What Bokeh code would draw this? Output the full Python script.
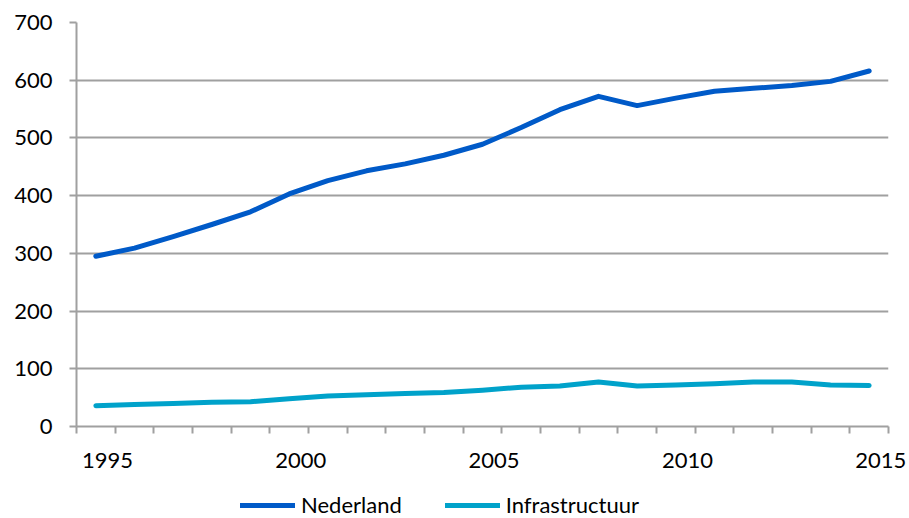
from bokeh.plotting import figure
from bokeh.layouts import column
from bokeh.models import FixedTicker, Legend, LegendItem, Range1d
from bokeh.embed import file_html
from bokeh.resources import INLINE

years = list(range(1995, 2016))
nederland = [295, 309, 329, 350, 372, 403, 426, 443, 455, 470, 489, 518, 549, 572,
             556, 569, 581, 586, 591, 598, 616]
infrastructuur = [36, 38, 40, 42, 43, 48, 53, 55, 57, 59, 63, 68, 70, 77,
                  70, 72, 74, 77, 77, 72, 71]
series_names = ["Nederland", "Infrastructuur"]
label_years = [1995, 2000, 2005, 2010, 2015]
y_ticks = [0, 100, 200, 300, 400, 500, 600, 700]

FONT = "Lato"
GRID = "#A0A0A0"
C_NL = "#005AC8"
C_IN = "#00A2CA"

p = figure(frame_width=812, frame_height=404, output_backend="svg",
           toolbar_location=None, min_border_left=76, min_border_right=21,
           min_border_top=22, min_border_bottom=54,
           x_range=Range1d(years[0] - 0.5, years[-1] + 0.5),
           y_range=Range1d(y_ticks[0], y_ticks[-1]))
p.outline_line_color = None
p.background_fill_color = "white"
p.border_fill_color = "white"

p.line(years, nederland, line_color=C_NL, line_width=5,
       line_cap="round", line_join="round")
p.line(years, infrastructuur, line_color=C_IN, line_width=5,
       line_cap="round", line_join="round")

# x axis: tick marks at category boundaries, labels slightly right of center
off = 0.3
xt = FixedTicker(ticks=[y + off for y in label_years],
                 minor_ticks=[y - 0.5 for y in years] + [years[-1] + 0.5])
p.xaxis.ticker = xt
p.xaxis.major_label_overrides = {y + off: str(y) for y in label_years}
p.xaxis.major_tick_line_color = None
p.xaxis.major_tick_out = 7
p.xaxis.major_tick_in = 0
p.xaxis.minor_tick_out = 7
p.xaxis.minor_tick_in = 0
p.xaxis.minor_tick_line_color = GRID
p.xaxis.minor_tick_line_width = 2
p.xaxis.major_label_standoff = 19
p.xgrid.grid_line_color = None

p.yaxis.ticker = FixedTicker(ticks=y_ticks)
p.yaxis.major_tick_out = 7
p.yaxis.major_tick_in = 0
p.yaxis.minor_tick_line_color = None
p.yaxis.major_tick_line_color = GRID
p.yaxis.major_tick_line_width = 2
p.yaxis.major_label_standoff = 17
p.ygrid.grid_line_color = GRID
p.ygrid.grid_line_width = 2
p.ygrid.ticker = FixedTicker(ticks=y_ticks[1:])

for ax in (p.xaxis, p.yaxis):
    ax.axis_line_color = GRID
    ax.axis_line_width = 2
    ax.major_label_text_font = FONT
    ax.major_label_text_font_size = "22px"
    ax.major_label_text_color = "black"

# legend strip below the chart (its series lie outside the strip's visible range)
lg = figure(width=909, height=38, output_backend="svg", toolbar_location=None,
            x_axis_type=None, y_axis_type=None, min_border=0,
            x_range=Range1d(0, 1), y_range=Range1d(0, 1))
lg.outline_line_color = None
lg.grid.grid_line_color = None
l1 = lg.line(years, nederland, line_color=C_NL, line_width=5, line_cap="round")
l2 = lg.line(years, infrastructuur, line_color=C_IN, line_width=5, line_cap="round")
legend = Legend(items=[LegendItem(label=series_names[0], renderers=[l1]),
                       LegendItem(label=series_names[1], renderers=[l2])],
                orientation="horizontal", location=(164, 0),
                label_text_font=FONT, label_text_font_size="22px",
                label_text_color="black", glyph_width=55, glyph_height=22,
                label_height=22, label_standoff=6, spacing=43, padding=0,
                margin=0, border_line_color=None, background_fill_alpha=0)
lg.add_layout(legend, "center")

layout = column(p, lg, spacing=0)
open("out.html", "w").write(file_html(layout, INLINE))
